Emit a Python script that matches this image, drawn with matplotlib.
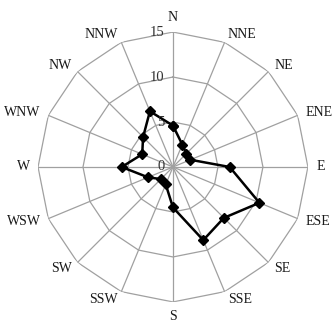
import numpy as np
import matplotlib
matplotlib.use("Agg")
import matplotlib.pyplot as plt

# wind direction frequency (%), clockwise from N
directions = ["N", "NNE", "NE", "ENE", "E", "ESE", "SE", "SSE",
              "S", "SSW", "SW", "WSW", "W", "WNW", "NW", "NNW"]
freq = [4.6, 2.7, 2.1, 2.1, 6.3, 10.4, 8.0, 8.8,
        4.5, 2.1, 1.9, 3.0, 5.7, 3.7, 4.7, 6.7]
rings = [5, 10, 15]
ring_labels = ["0", "5", "10", "15"]

plt.rcParams["font.family"] = ["Liberation Serif", "DejaVu Serif"]

theta = np.deg2rad(np.arange(16) * 22.5)
th_closed = np.append(theta, theta[0])

fig = plt.figure(figsize=(3.32, 3.23), dpi=100)
ax = fig.add_axes([0.1145, 0.065, 0.813, 0.836], projection="polar")
ax.set_theta_zero_location("N")
ax.set_theta_direction(-1)
ax.set_ylim(0, 15)
ax.grid(False)
ax.spines["polar"].set_visible(False)
ax.set_xticks([]); ax.set_yticks([])

# polygon grid
gc = "#a0a0a0"
for r in rings:
    ax.plot(th_closed, [r] * 17, color=gc, lw=0.9, zorder=1)
for t in theta:
    ax.plot([t, t], [0, 15], color=gc, lw=0.9, zorder=1)

# data
f_closed = freq + freq[:1]
ax.plot(th_closed, f_closed, color="black", lw=1.8, marker="D", ms=4.8, zorder=3)

# direction labels
for t, lab in zip(theta, directions):
    s, c = np.sin(t), np.cos(t)
    ha = "left" if s > 0.1 else ("right" if s < -0.1 else "center")
    va = "bottom" if c > 0.95 else ("top" if c < -0.95 else "center")
    ax.annotate(lab, xy=(t, 15), xytext=(6 * s, 6 * c), textcoords="offset points",
                ha=ha, va=va, fontsize=10, color="#1a1a1a", annotation_clip=False)

# radial labels along N axis
for r, lab in zip([0] + rings, ring_labels):
    ax.annotate(lab, xy=(0, r), xytext=(-6, 0), textcoords="offset points",
                ha="right", va="center", fontsize=10.5, color="#333333",
                annotation_clip=False)

fig.savefig("out.png", dpi=100)
